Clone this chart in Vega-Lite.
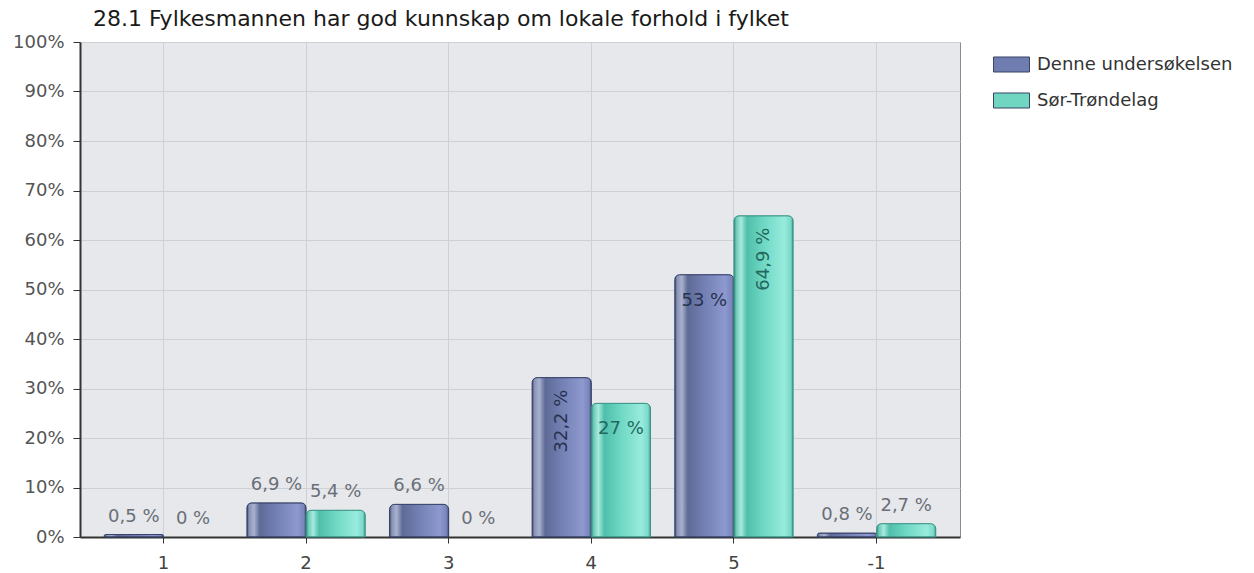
{
  "$schema": "https://vega.github.io/schema/vega-lite/v6.json",
  "width": 880,
  "height": 495,
  "autosize": {"type": "none"},
  "padding": {"left": 80, "top": 42, "right": 294, "bottom": 36},
  "background": "white",
  "title": {
    "text": "28.1 Fylkesmannen har god kunnskap om lokale forhold i fylket",
    "anchor": "start",
    "frame": "group",
    "dx": 13,
    "offset": 2,
    "fontSize": 22,
    "font": "DejaVu Sans",
    "fontWeight": "normal",
    "color": "#1a1a1a"
  },
  "config": {
    "font": "DejaVu Sans",
    "view": {"fill": "#e6e8eb", "stroke": "#8c8c8c", "strokeWidth": 1}
  },
  "data": {
    "values": [
      {"cat": "1", "series": "Denne undersøkelsen", "value": 0.5},
      {"cat": "1", "series": "Sør-Trøndelag", "value": 0},
      {"cat": "2", "series": "Denne undersøkelsen", "value": 6.9},
      {"cat": "2", "series": "Sør-Trøndelag", "value": 5.4},
      {"cat": "3", "series": "Denne undersøkelsen", "value": 6.6},
      {"cat": "3", "series": "Sør-Trøndelag", "value": 0},
      {"cat": "4", "series": "Denne undersøkelsen", "value": 32.2},
      {"cat": "4", "series": "Sør-Trøndelag", "value": 27},
      {"cat": "5", "series": "Denne undersøkelsen", "value": 53},
      {"cat": "5", "series": "Sør-Trøndelag", "value": 64.9},
      {"cat": "-1", "series": "Denne undersøkelsen", "value": 0.8},
      {"cat": "-1", "series": "Sør-Trøndelag", "value": 2.7}
    ]
  },
  "transform": [
    {"calculate": "replace(format(datum.value, '.1~f'), '.', ',') + ' %'", "as": "label"}
  ],
  "encoding": {
    "x": {
      "field": "cat",
      "type": "nominal",
      "sort": ["1", "2", "3", "4", "5", "-1"],
      "scale": {"paddingInner": 0.17, "paddingOuter": 0.17},
      "axis": {
        "title": null,
        "labelAngle": 0,
        "labelFontSize": 18,
        "labelColor": "#444444",
        "labelPadding": 11,
        "tickSize": 6,
        "tickColor": "#333333",
        "domainColor": "#333333",
        "domainWidth": 2,
        "grid": true,
        "gridColor": "#cdd1d6",
        "bandPosition": 0.5
      }
    },
    "xOffset": {"field": "series", "type": "nominal", "sort": ["Denne undersøkelsen", "Sør-Trøndelag"]},
    "y": {
      "field": "value",
      "type": "quantitative",
      "scale": {"domain": [0, 100], "nice": false},
      "axis": {
        "title": null,
        "values": [0, 10, 20, 30, 40, 50, 60, 70, 80, 90, 100],
        "labelExpr": "datum.value + '%'",
        "labelFontSize": 18,
        "labelColor": "#555555",
        "labelPadding": 9,
        "tickSize": 7,
        "tickColor": "#333333",
        "domainColor": "#333333",
        "domainWidth": 2,
        "gridColor": "#cdd1d6"
      }
    }
  },
  "layer": [
    {
      "transform": [{"filter": "datum.value > 0"}],
      "mark": {"type": "bar", "cornerRadiusTopLeft": 5, "cornerRadiusTopRight": 5},
      "encoding": {
        "color": {
          "field": "series",
          "type": "nominal",
          "sort": ["Denne undersøkelsen", "Sør-Trøndelag"],
          "scale": {"range": ["#6f7db0", "#70d6c2"]},
          "legend": {
            "title": null,
            "orient": "none",
            "legendX": 913,
            "legendY": 4,
            "symbolType": "M-1,-0.417H1V0.417H-1Z",
            "symbolSize": 1296,
            "symbolStrokeColor": "#3a4466",
            "symbolStrokeWidth": 1,
            "symbolOpacity": 1,
            "labelFontSize": 18,
            "labelColor": "#333333",
            "labelOffset": 7,
            "labelLimit": 400,
            "rowPadding": 7
          }
        }
      }
    },
    {
      "transform": [{"filter": "datum.series === 'Denne undersøkelsen' && datum.value > 0"}],
      "mark": {
        "type": "bar",
        "cornerRadiusTopLeft": 5,
        "cornerRadiusTopRight": 5,
        "stroke": "#37426a",
        "strokeWidth": 1,
        "fill": {
          "gradient": "linear",
          "x1": 0, "y1": 0, "x2": 1, "y2": 0,
          "stops": [
            {"offset": 0, "color": "#3e4a72"},
            {"offset": 0.04, "color": "#8a93b5"},
            {"offset": 0.12, "color": "#a9b1cf"},
            {"offset": 0.22, "color": "#5e6a96"},
            {"offset": 0.5, "color": "#7380b3"},
            {"offset": 0.85, "color": "#8d99cf"},
            {"offset": 0.96, "color": "#7a86bb"},
            {"offset": 1, "color": "#4a5680"}
          ]
        }
      }
    },
    {
      "transform": [{"filter": "datum.series === 'Sør-Trøndelag' && datum.value > 0"}],
      "mark": {
        "type": "bar",
        "cornerRadiusTopLeft": 5,
        "cornerRadiusTopRight": 5,
        "stroke": "#3a9585",
        "strokeWidth": 1,
        "fill": {
          "gradient": "linear",
          "x1": 0, "y1": 0, "x2": 1, "y2": 0,
          "stops": [
            {"offset": 0, "color": "#2f8c7c"},
            {"offset": 0.04, "color": "#6fc9b8"},
            {"offset": 0.12, "color": "#a6ebde"},
            {"offset": 0.22, "color": "#4fbfab"},
            {"offset": 0.5, "color": "#6fd8c4"},
            {"offset": 0.85, "color": "#98ebdd"},
            {"offset": 0.96, "color": "#7dd9c9"},
            {"offset": 1, "color": "#3a9c8b"}
          ]
        }
      }
    },
    {
      "transform": [{"filter": "datum.value < 10"}],
      "mark": {"type": "text", "baseline": "middle", "dy": -18, "fontSize": 18, "color": "#6a6f77"},
      "encoding": {"text": {"field": "label"}}
    },
    {
      "transform": [{"filter": "datum.value >= 10 && length(datum.label) <= 4"}],
      "mark": {"type": "text", "baseline": "middle", "dy": 26, "fontSize": 18},
      "encoding": {
        "text": {"field": "label"},
        "color": {"condition": {"test": "datum.series === 'Denne undersøkelsen'", "value": "#28324f"}, "value": "#23685c"}
      }
    },
    {
      "transform": [{"filter": "datum.value >= 10 && length(datum.label) > 4"}],
      "mark": {"type": "text", "baseline": "middle", "align": "right", "angle": 270, "dx": -12, "fontSize": 18},
      "encoding": {
        "text": {"field": "label"},
        "color": {"condition": {"test": "datum.series === 'Denne undersøkelsen'", "value": "#28324f"}, "value": "#23685c"}
      }
    }
  ]
}
